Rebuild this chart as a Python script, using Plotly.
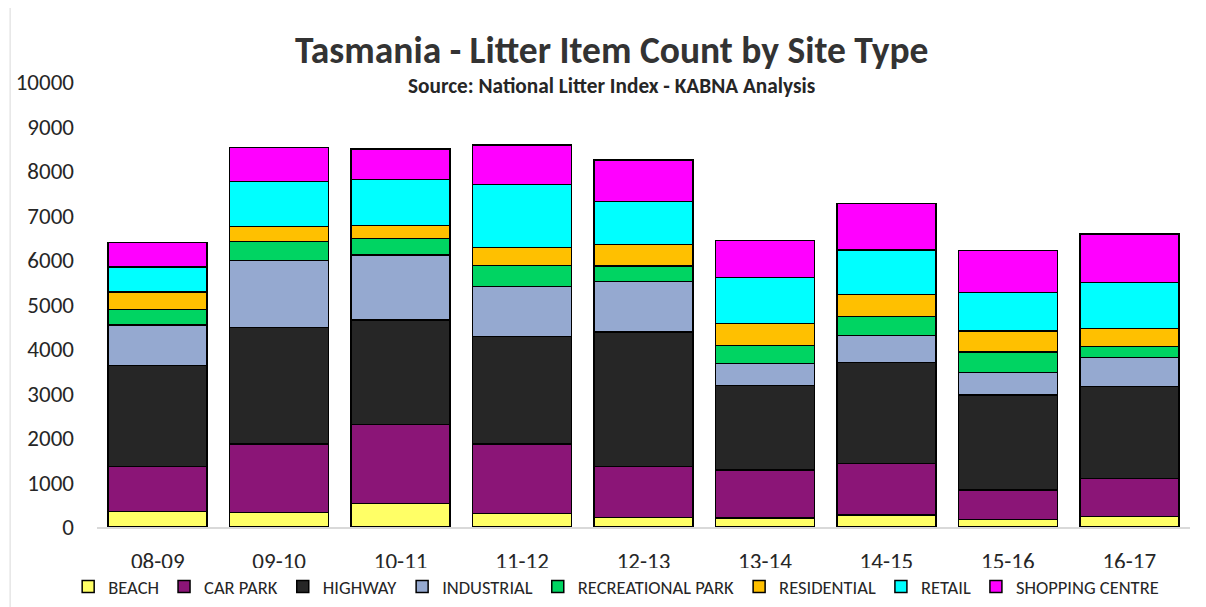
import plotly.graph_objects as go

seasons = ["08-09", "09-10", "10-11", "11-12", "12-13", "13-14", "14-15", "15-16", "16-17"]
beach = [345, 330, 532, 307, 210, 202, 270, 165, 232]
car_park = [1011, 1535, 1775, 1558, 1146, 1079, 1161, 666, 854]
highway = [2269, 2614, 2345, 2411, 3026, 1895, 2269, 2135, 2067]
industrial = [914, 1506, 1460, 1124, 1131, 502, 600, 502, 652]
recreational_park = [353, 427, 375, 480, 352, 397, 426, 465, 247]
residential = [389, 337, 284, 396, 479, 502, 494, 471, 405]
retail = [562, 1019, 1042, 1425, 975, 1034, 1005, 870, 1034]
shopping_centre = [555, 764, 681, 883, 928, 823, 1049, 944, 1093]

series = [
    ("BEACH", beach, "#FFFF66"),
    ("CAR PARK", car_park, "#8B1577"),
    ("HIGHWAY", highway, "#262626"),
    ("INDUSTRIAL", industrial, "#95A9D0"),
    ("RECREATIONAL PARK", recreational_park, "#00D462"),
    ("RESIDENTIAL", residential, "#FFC000"),
    ("RETAIL", retail, "#00FFFF"),
    ("SHOPPING CENTRE", shopping_centre, "#FF00FF"),
]

FONT = "Carlito, Calibri, 'Liberation Sans Narrow', 'Liberation Sans', sans-serif"

fig = go.Figure()
for name, vals, color in series:
    fig.add_trace(go.Bar(
        x=seasons, y=vals, name=name,
        marker=dict(color=color, line=dict(color="#000000", width=1.5)),
    ))

# page body adds an 8px offset; figure is sized/positioned to compensate
fig.update_layout(
    barmode="stack",
    bargap=0.185,
    width=1198, height=599,
    paper_bgcolor="white", plot_bgcolor="white",
    margin=dict(l=89, r=16, t=74, b=80, autoexpand=False),
    font=dict(family=FONT, color="#262626"),
    title=dict(
        text="<b>Tasmania - Litter Item Count by Site Type</b>",
        x=0.504, xanchor="center", y=0.93, yanchor="middle",
        font=dict(size=37.5, color="#333333", family=FONT),
    ),
    annotations=[dict(
        text="<b>Source: National Litter Index - KABNA Analysis</b>",
        xref="paper", yref="paper", x=0.471, y=0.991, xanchor="center", yanchor="middle",
        showarrow=False, font=dict(size=21.3, color="#262626", family=FONT),
    )],
    showlegend=True,
    legend=dict(
        orientation="h", x=0.475, xanchor="center",
        yref="container", y=0.0334, yanchor="middle",
        font=dict(size=18.5, color="#262626", family=FONT),
        traceorder="normal", itemwidth=30,
    ),
    xaxis=dict(
        type="category", automargin=False,
        showline=True, linecolor="#D9D9D9", linewidth=1.5,
        tickfont=dict(size=23, color="#262626"), ticks="", ticklabelstandoff=13,
    ),
    yaxis=dict(
        range=[0, 10000], dtick=1000, tickformat="d", showgrid=False, zeroline=False,
        automargin=False,
        tickfont=dict(size=23, color="#262626"), ticklabelstandoff=22,
    ),
    shapes=[dict(type="rect", xref="paper", yref="paper", x0=-0.0795, x1=1.012, y0=-0.2, y1=1.18,
                 line=dict(color="#D9D9D9", width=1))],
)

fig.write_html("out.html")
